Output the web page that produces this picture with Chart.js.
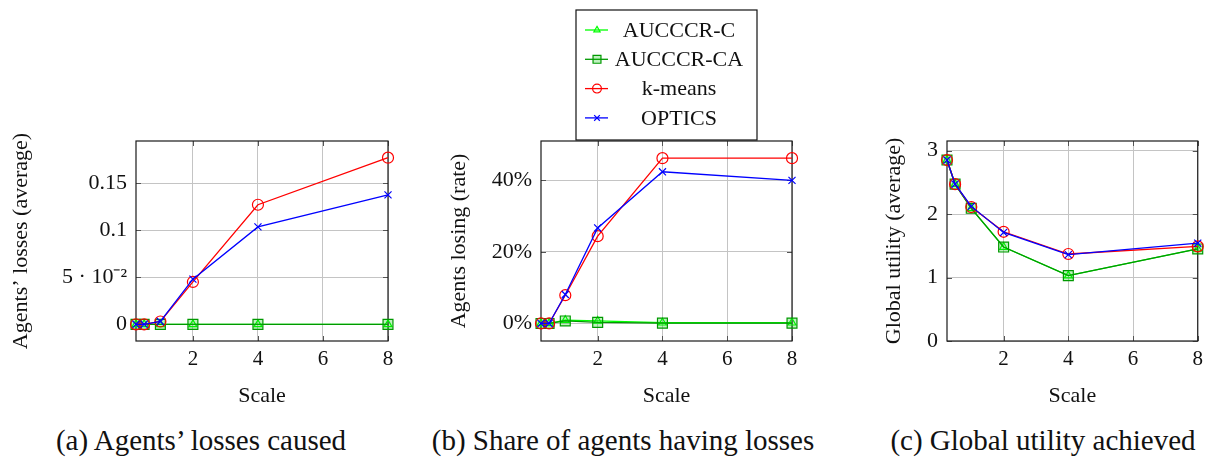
<!DOCTYPE html>
<html>
<head>
<meta charset="utf-8">
<script src="https://cdn.jsdelivr.net/npm/chart.js@4.4.1/dist/chart.umd.min.js"></script>
<style>
  html, body { margin: 0; padding: 0; background: #fff; }
  body { width: 1209px; height: 459px; position: relative; overflow: hidden; font-family: "Liberation Serif", serif; }
  canvas { position: absolute; top: 0; }
  .caption { position: absolute; top: 424px; font-size: 29px; line-height: 32px; color: #111; transform: translateX(-50%); white-space: nowrap; }
</style>
</head>
<body>
<canvas id="chart-losses" width="400" height="415" style="left:0"></canvas>
<canvas id="chart-rate" width="420" height="415" style="left:400px"></canvas>
<canvas id="chart-utility" width="389" height="415" style="left:820px"></canvas>
<div class="caption" style="left:201px">(a) Agents’ losses caused</div>
<div class="caption" style="left:623px">(b) Share of agents having losses</div>
<div class="caption" style="left:1043px">(c) Global utility achieved</div>
<script>
const SCALES = [0.25, 0.5, 1, 2, 4, 8];
const X_TICKS = [2, 4, 6, 8];
const SERIES_NAMES = ["AUCCCR-C", "AUCCCR-CA", "k-means", "OPTICS"];

// (a) average losses caused
const LOSSES_AUCCCR_C = [0, 0, 0, 0, 0, 0];
const LOSSES_AUCCCR_CA = [0, 0, 0, 0, 0, 0];
const LOSSES_KMEANS = [0, 0, 0.003, 0.045, 0.127, 0.177];
const LOSSES_OPTICS = [0, 0, 0.003, 0.048, 0.1035, 0.1375];
const LOSS_TICKS = [0, 0.05, 0.1, 0.15];
const LOSS_TICK_LABELS = ["0", "5 · 10⁻²", "0.1", "0.15"];

// (b) share of agents losing, in percent
const RATE_AUCCCR_C = [0, 0, 0.9, 0.7, 0.2, 0.2];
const RATE_AUCCCR_CA = [0, 0, 0.7, 0.3, 0.1, 0.1];
const RATE_KMEANS = [0, 0, 7.9, 24.4, 46.2, 46.2];
const RATE_OPTICS = [0, 0, 8.1, 26.7, 42.4, 40.0];
const RATE_TICKS = [0, 20, 40];
const RATE_TICK_LABELS = ["0%", "20%", "40%"];

// (c) global utility
const UTILITY_AUCCCR_C = [2.85, 2.47, 2.09, 1.48, 1.03, 1.45];
const UTILITY_AUCCCR_CA = [2.85, 2.47, 2.09, 1.48, 1.03, 1.45];
const UTILITY_KMEANS = [2.85, 2.47, 2.11, 1.72, 1.37, 1.49];
const UTILITY_OPTICS = [2.85, 2.47, 2.12, 1.71, 1.36, 1.54];
const UTILITY_TICKS = [0, 1, 2, 3];
const UTILITY_TICK_LABELS = ["0", "1", "2", "3"];

const FONT = "Liberation Serif";
const INK = "#111";

const STYLES = [
  { color: "#00ff00", pointStyle: "triangle", radius: 4.5, fill: "rgba(0,0,0,0)" },
  { color: "#009900", pointStyle: "rect", radius: 7, fill: "rgba(0,200,0,0.25)" },
  { color: "#ff0000", pointStyle: "circle", radius: 5.5, fill: "rgba(0,0,0,0)" },
  { color: "#0000ff", pointStyle: "crossRot", radius: 5, fill: "rgba(0,0,0,0)" },
];

function makeDatasets(seriesList) {
  return seriesList.map((values, i) => ({
    label: SERIES_NAMES[i],
    data: SCALES.map((x, j) => ({ x, y: values[j] })),
    borderColor: STYLES[i].color,
    backgroundColor: STYLES[i].fill,
    pointStyle: STYLES[i].pointStyle,
    pointRadius: STYLES[i].radius,
    pointBackgroundColor: STYLES[i].fill,
    pointBorderColor: STYLES[i].color,
    pointBorderWidth: 1.2,
    borderWidth: 1.3,
    tension: 0,
    clip: false,
    order: seriesList.length - 1 - i,
  }));
}

const frameTicks = {
  id: "frame-ticks",
  beforeDatasetsDraw(chart) {
    const { ctx, chartArea: a, scales: { x, y } } = chart;
    const len = 5;
    ctx.save();
    ctx.strokeStyle = "#555";
    ctx.lineWidth = 1;
    ctx.beginPath();
    x.ticks.forEach((t) => {
      const px = Math.round(x.getPixelForValue(t.value)) + 0.5;
      ctx.moveTo(px, a.bottom); ctx.lineTo(px, a.bottom - len);
      ctx.moveTo(px, a.top); ctx.lineTo(px, a.top + len);
    });
    y.ticks.forEach((t) => {
      const py = Math.round(y.getPixelForValue(t.value)) + 0.5;
      ctx.moveTo(a.left, py); ctx.lineTo(a.left + len, py);
      ctx.moveTo(a.right, py); ctx.lineTo(a.right - len, py);
    });
    ctx.stroke();
    ctx.strokeStyle = "#1a1a1a";
    ctx.lineWidth = 1.2;
    ctx.strokeRect(a.left, a.top, a.right - a.left, a.bottom - a.top);
    ctx.restore();
  },
};

const legendBox = {
  id: "legend-box",
  afterDraw(chart) {
    const { ctx, chartArea: a } = chart;
    const w = 181, h = 130, rowH = 29.3;
    const left = (a.left + a.right) / 2 - w / 2;
    const top = a.top - 1 - h;
    ctx.save();
    ctx.fillStyle = "#fff";
    ctx.fillRect(left, top, w, h);
    ctx.strokeStyle = "#111";
    ctx.lineWidth = 1.2;
    ctx.strokeRect(left, top, w, h);
    chart.data.datasets.forEach((ds, i) => {
      const yy = top + 20 + i * rowH;
      ctx.strokeStyle = ds.borderColor;
      ctx.lineWidth = ds.borderWidth;
      ctx.beginPath();
      ctx.moveTo(left + 9, yy);
      ctx.lineTo(left + 32, yy);
      ctx.stroke();
      ctx.fillStyle = ds.pointBackgroundColor;
      ctx.lineWidth = ds.pointBorderWidth;
      Chart.helpers.drawPoint(ctx, {
        pointStyle: ds.pointStyle,
        radius: ds.pointRadius * 0.8,
        borderWidth: ds.pointBorderWidth,
        rotation: 0,
      }, left + 21, yy);
      ctx.fillStyle = INK;
      ctx.font = `22px "${FONT}"`;
      ctx.textAlign = "center";
      ctx.textBaseline = "middle";
      ctx.fillText(ds.label, left + 103, yy + 1);
    });
    ctx.restore();
  },
};

function makeChart(id, seriesList, opts) {
  return new Chart(document.getElementById(id), {
    type: "line",
    data: { datasets: makeDatasets(seriesList) },
    options: {
      responsive: false,
      animation: false,
      layout: { padding: { left: 0, top: 141, right: opts.rightPad, bottom: 0 } },
      plugins: { legend: { display: false }, tooltip: { enabled: false } },
      scales: {
        x: {
          type: "linear",
          min: 0.25,
          max: 8,
          afterBuildTicks: (s) => { s.ticks = X_TICKS.map((value) => ({ value })); },
          afterFit: (s) => { s.height = 74; },
          ticks: { font: { family: FONT, size: 21 }, color: INK, padding: 6, maxRotation: 0, autoSkip: false },
          grid: { color: "#c4c4c4", lineWidth: 1, drawTicks: false },
          border: { display: false },
          title: { display: true, text: "Scale", font: { family: FONT, size: 22 }, color: INK, padding: { top: 0, bottom: 6 } },
        },
        y: {
          type: "linear",
          min: opts.yMin,
          max: opts.yMax,
          afterBuildTicks: (s) => { s.ticks = opts.yTicks.map((value) => ({ value })); },
          afterFit: (s) => { s.width = opts.yWidth; },
          ticks: {
            font: { family: FONT, size: 22 },
            color: INK,
            padding: 9,
            autoSkip: false,
            callback: (v, i) => opts.yLabels[i],
          },
          grid: { color: "#c4c4c4", lineWidth: 1, drawTicks: false },
          border: { display: false },
          title: { display: true, text: opts.yTitle, font: { family: FONT, size: 22 }, color: INK, padding: { top: opts.titlePad, bottom: 0 } },
        },
      },
    },
    plugins: opts.plugins,
  });
}

makeChart("chart-losses",
  [LOSSES_AUCCCR_C, LOSSES_AUCCCR_CA, LOSSES_KMEANS, LOSSES_OPTICS],
  { yMin: -0.0177, yMax: 0.1947, yTicks: LOSS_TICKS, yLabels: LOSS_TICK_LABELS,
    yTitle: "Agents’ losses (average)", yWidth: 136, rightPad: 12, titlePad: 8, plugins: [frameTicks] });

makeChart("chart-rate",
  [RATE_AUCCCR_C, RATE_AUCCCR_CA, RATE_KMEANS, RATE_OPTICS],
  { yMin: -4.9, yMax: 51.0, yTicks: RATE_TICKS, yLabels: RATE_TICK_LABELS,
    yTitle: "Agents losing (rate)", yWidth: 141, rightPad: 28, titlePad: 46, plugins: [frameTicks, legendBox] });

makeChart("chart-utility",
  [UTILITY_AUCCCR_C, UTILITY_AUCCCR_CA, UTILITY_KMEANS, UTILITY_OPTICS],
  { yMin: 0, yMax: 3.15, yTicks: UTILITY_TICKS, yLabels: UTILITY_TICK_LABELS,
    yTitle: "Global utility (average)", yWidth: 127, rightPad: 10, titlePad: 61, plugins: [frameTicks] });
</script>
</body>
</html>
